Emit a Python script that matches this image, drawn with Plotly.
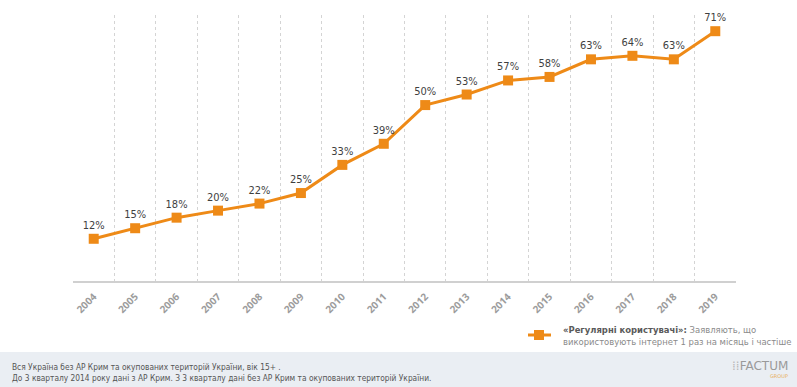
import plotly.graph_objects as go

years = list(range(2004, 2020))
year_labels = [str(y) for y in years]
values = [12, 15, 18, 20, 22, 25, 33, 39, 50, 53, 57, 58, 63, 64, 63, 71]
labels = [f"{v}%" for v in values]

series_name = ("<b><span style='color:#5a5a5a'>«Регулярні користувачі»:</span></b>"
               "<span style='color:#8a8a8a'> Заявляють, що<br>використовують інтернет 1 раз на місяць і частіше</span>")
footer_text = ("Вся Україна без АР Крим та окупованих територій України, вік 15+ .<br>"
               "До 3 кварталу 2014 року дані з АР Крим. З 3 кварталу дані без АР Крим та окупованих територій України.")

W, H = 797, 387
L, R, T, B = 73, 61, 15, 106
PW, PH = W - L - R, H - T - B

def px(x):
    return (x - L) / PW

def py(y):
    return (H - B - y) / PH

orange = "#EE8A17"
FONT = "DejaVu Sans Condensed, DejaVu Sans"

boundaries = [years[0] - 0.5] + [y + 0.5 for y in years]

fig = go.Figure()
fig.add_trace(go.Scatter(
    x=years, y=values, mode="lines+markers+text",
    text=labels, textposition="top center",
    textfont=dict(family=FONT, size=11, color="#3f3f3f"),
    line=dict(color=orange, width=3),
    marker=dict(symbol="square", size=10, color=orange),
    showlegend=False, cliponaxis=False,
))

fig.update_layout(
    width=W, height=H,
    margin=dict(l=L, r=R, t=T, b=B, autoexpand=False),
    paper_bgcolor="white", plot_bgcolor="white",
    font=dict(family=FONT, color="#555"),
    xaxis=dict(
        range=[boundaries[0], boundaries[-1]],
        tickmode="array", tickvals=years, ticktext=year_labels,
        tickangle=-45, ticks="outside", ticklen=4, tickcolor="rgba(0,0,0,0)",
        tickfont=dict(family="Open Sans", size=10, color="#9c9c9c", weight="bold"),
        showgrid=False, zeroline=False,
        showline=True, linecolor="#d0d0d0", linewidth=2,
        minor=dict(tickmode="array", tickvals=boundaries, showgrid=True,
                   gridcolor="#d4d4d4", griddash="dot", gridwidth=1, ticks=""),
        fixedrange=True,
    ),
    yaxis=dict(range=[0, 75.6], visible=False, showgrid=False, fixedrange=True),
    showlegend=False,
)

# legend (drawn manually)
fig.add_shape(type="line", xref="paper", yref="paper",
              x0=px(528), x1=px(551), y0=py(335), y1=py(335),
              line=dict(color=orange, width=3))
fig.add_shape(type="rect", xref="paper", yref="paper",
              x0=px(534), x1=px(544), y0=py(340), y1=py(330),
              fillcolor=orange, line=dict(width=0))
fig.add_annotation(xref="paper", yref="paper", x=px(561), y=py(335),
                   xanchor="left", yanchor="middle", align="left",
                   text=series_name, showarrow=False,
                   font=dict(family=FONT, size=9.4, color="#8a8a8a"))

# footer band
fig.add_shape(type="rect", xref="paper", yref="paper",
              x0=px(0), x1=px(W), y0=py(387), y1=py(352),
              fillcolor="#eaeef3", line=dict(width=0), layer="below")

fig.add_annotation(xref="paper", yref="paper", x=px(10), y=py(372),
                   xanchor="left", yanchor="middle", align="left",
                   text=footer_text, showarrow=False,
                   font=dict(family=FONT, size=8.3, color="#555"))

fig.add_annotation(xref="paper", yref="paper", x=px(790), y=py(366),
                   xanchor="right", yanchor="middle",
                   text="<span style='color:#b8b8b8'>⁞⁞</span>FACTUM", showarrow=False,
                   font=dict(family="DejaVu Sans", size=12, color="#9a9a9a"))
fig.add_annotation(xref="paper", yref="paper", x=px(790), y=py(376),
                   xanchor="right", yanchor="middle",
                   text="GROUP", showarrow=False,
                   font=dict(family="DejaVu Sans", size=5, color="#e8b060"))

fig.write_html("out.html")
